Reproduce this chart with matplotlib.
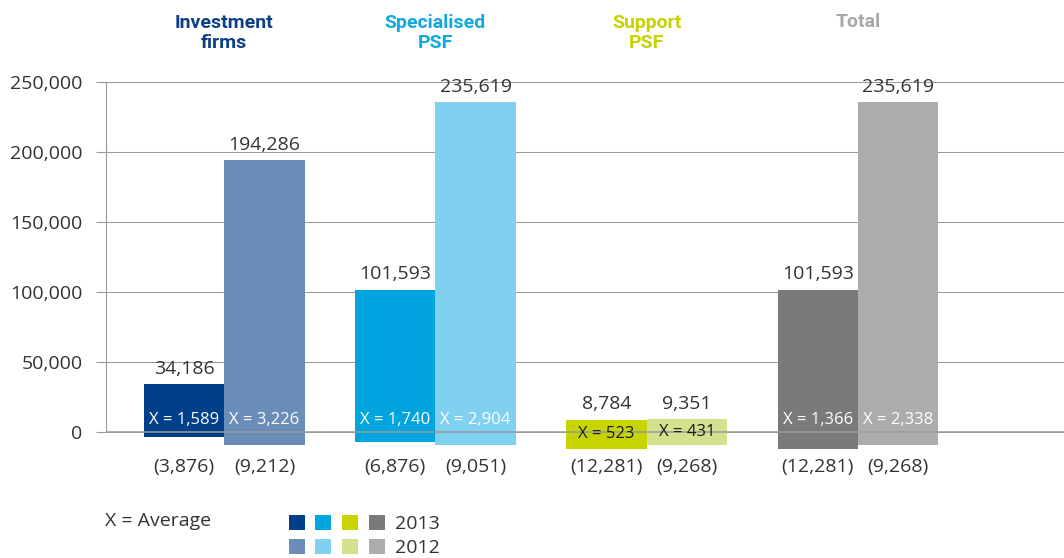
import matplotlib
matplotlib.use("Agg")
import matplotlib.pyplot as plt
from matplotlib.patches import Patch

plt.rcParams['font.family'] = ['Open Sans', 'DejaVu Sans']

# --- data ---
groups = ['Investment\nfirms', 'Specialised\nPSF', 'Support\nPSF', 'Total']
years = ['2013', '2012']
max_2013 = [34186, 101593, 8784, 101593]
max_2012 = [194286, 235619, 9351, 235619]
min_2013 = [-3876, -6876, -12281, -12281]
min_2012 = [-9212, -9051, -9268, -9268]
avg_2013 = [1589, 1740, 523, 1366]
avg_2012 = [3226, 2904, 431, 2338]

col_2013 = ['#00408a', '#00a5e0', '#c8d400', '#7a7a7a']
col_2012 = ['#6a8dba', '#80d0f0', '#d3e28e', '#acacac']
head_cols = ['#0c3f87', '#12a8e0', '#c7d300', '#a8a8a8']
avg_txt = ['white', 'white', '#1a1a1a', 'white']
txt = '#333333'
line_c = '#9a9a9a'

fig = plt.figure(figsize=(10.64, 5.58), dpi=100)
ax = fig.add_axes([106 / 1064, 0, 1 - 106 / 1064, 1])

# pixel -> data helper (figure is 558 px tall, axes fill it)
zero_px, top_px = 432, 82
per_px = 250000 / (zero_px - top_px)


def y_of(px):
    return (zero_px - px) * per_px


ax.set_ylim(y_of(558), y_of(0))
ax.set_xlim(-0.56, 3.976)

w = 0.38
for i in range(len(groups)):
    for j, (mx, mn, av, cols) in enumerate([(max_2013, min_2013, avg_2013, col_2013),
                                            (max_2012, min_2012, avg_2012, col_2012)]):
        xc = i - w / 2 + j * w
        ax.bar(xc, mx[i] - mn[i], bottom=mn[i], width=w, color=cols[i], zorder=2)
        ax.annotate(f'{mx[i]:,}', (xc, mx[i]), xytext=(0, 11), textcoords='offset points',
                    ha='center', va='center', fontsize=14, color=txt)
        ax.text(xc, y_of(467), f'({-mn[i]:,})', ha='center', va='center', fontsize=14, color=txt)
        ya = min(y_of(420), (mx[i] + mn[i]) / 2)
        ax.text(xc, ya, f'X = {av[i]:,}', ha='center', va='center', fontsize=12,
                color=avg_txt[i], zorder=3)
    ypos = y_of(22) if '\n' not in groups[i] else y_of(33)
    ax.text(i, ypos, groups[i], ha='center', va='center', fontsize=14, fontweight='bold',
            color=head_cols[i], family=['Roboto', 'DejaVu Sans'], linespacing=1.15)

ax.axhline(0, color=line_c, lw=1.1, zorder=2.5)
ax.grid(axis='y', color=line_c, lw=0.75, zorder=0)
ax.set_axisbelow(True)
for s in ['top', 'right', 'bottom']:
    ax.spines[s].set_visible(False)
ax.spines['left'].set_bounds(0, 250000)
ax.spines['left'].set_color(line_c)
ax.set_yticks(range(0, 250001, 50000))
ax.set_yticklabels([f'{v:,}' for v in range(0, 250001, 50000)])
ax.tick_params(axis='y', colors=line_c, labelcolor=txt, labelsize=14, length=7, pad=10)
ax.set_xticks([])

fig.text(105 / 1064, 1 - 521 / 558, 'X = Average', ha='left', va='center', fontsize=14, color=txt)

handles, labels = [], []
for i in range(len(groups)):
    handles += [Patch(facecolor=col_2013[i]), Patch(facecolor=col_2012[i])]
    labels += ['', ''] if i < len(groups) - 1 else years
fig.legend(handles, labels, ncol=4, loc='upper left', bbox_to_anchor=(279 / 1064, 1 - 505 / 558),
           frameon=False, fontsize=14, handlelength=0.82, handleheight=0.82, handletextpad=0.55,
           columnspacing=0.0, labelspacing=0.3, borderpad=0, labelcolor=txt)

fig.savefig('out.png', dpi=100)
